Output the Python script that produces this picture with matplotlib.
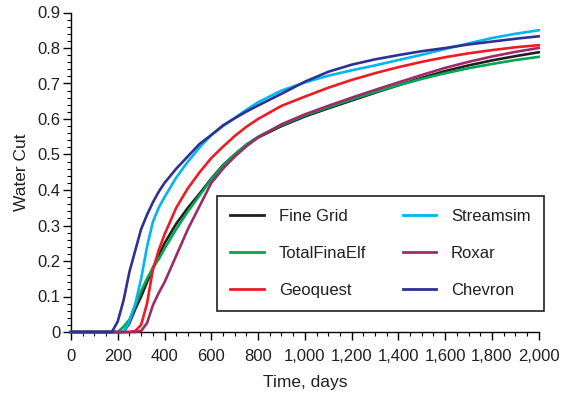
import matplotlib
matplotlib.use("Agg")
import matplotlib.pyplot as plt
from matplotlib.ticker import MultipleLocator, FuncFormatter

plt.rcParams['font.family'] = ['Liberation Sans', 'DejaVu Sans']
TXT = '#231f20'

# water cut vs time for each simulator
days = [0, 175, 200, 225, 250, 275, 300, 325, 350, 375, 400, 450, 500, 550, 600,
        650, 700, 750, 800, 900, 1000, 1100, 1200, 1300, 1400, 1500, 1600, 1700, 1800, 1900, 2000]

fine_grid = [0, 0, 0, 0, 0.025, 0.065, 0.10, 0.14, 0.18, 0.215, 0.25, 0.305, 0.35, 0.39, 0.432,
             0.47, 0.50, 0.527, 0.548, 0.58, 0.607, 0.63, 0.652, 0.674, 0.695, 0.716, 0.735, 0.751, 0.765, 0.777, 0.788]
totalfinaelf = [0, 0, 0, 0.015, 0.035, 0.075, 0.115, 0.15, 0.18, 0.205, 0.235, 0.29, 0.34, 0.385, 0.43,
                0.468, 0.50, 0.528, 0.55, 0.583, 0.61, 0.633, 0.655, 0.676, 0.695, 0.713, 0.729, 0.743, 0.755, 0.766, 0.775]
geoquest = [0, 0, 0, 0, 0, 0.003, 0.02, 0.08, 0.175, 0.23, 0.275, 0.35, 0.405, 0.45, 0.49,
            0.522, 0.552, 0.578, 0.60, 0.637, 0.663, 0.688, 0.71, 0.729, 0.746, 0.761, 0.774, 0.785, 0.794, 0.802, 0.808]
streamsim = [0, 0, 0, 0, 0.03, 0.08, 0.15, 0.24, 0.31, 0.35, 0.38, 0.435, 0.48, 0.52, 0.555,
             0.58, 0.603, 0.626, 0.647, 0.68, 0.703, 0.722, 0.737, 0.751, 0.766, 0.781, 0.797, 0.813, 0.828, 0.84, 0.85]
roxar = [0, 0, 0, 0, 0, 0, 0.003, 0.025, 0.075, 0.11, 0.14, 0.215, 0.29, 0.355, 0.42,
         0.46, 0.494, 0.523, 0.548, 0.585, 0.613, 0.637, 0.66, 0.682, 0.703, 0.724, 0.744, 0.761, 0.776, 0.789, 0.80]
chevron = [0, 0, 0.03, 0.09, 0.17, 0.23, 0.29, 0.33, 0.365, 0.395, 0.42, 0.46, 0.495, 0.53, 0.555,
           0.582, 0.602, 0.621, 0.638, 0.671, 0.705, 0.733, 0.753, 0.768, 0.78, 0.791, 0.80, 0.81, 0.818, 0.826, 0.833]

series = [
    ('Fine Grid', fine_grid, '#231f20'),
    ('TotalFinaElf', totalfinaelf, '#00a651'),
    ('Geoquest', geoquest, '#ed1c24'),
    ('Streamsim', streamsim, '#00b6f0'),
    ('Roxar', roxar, '#9e2a6a'),
    ('Chevron', chevron, '#2e3192'),
]

fig = plt.figure(figsize=(5.61, 3.95), dpi=100)
ax = fig.add_axes([71 / 561, 63 / 395, 467.7 / 561, 319.5 / 395])

for name, vals, col in series:
    ax.plot(days, vals, color=col, lw=1.9, label=name, clip_on=False, zorder=3)

ax.set_xlim(0, 2000)
ax.set_ylim(0, 0.9)
ax.spines['top'].set_visible(False)
ax.spines['right'].set_visible(False)
for s in ('left', 'bottom'):
    ax.spines[s].set_linewidth(1.0)

ax.xaxis.set_major_locator(MultipleLocator(200))
ax.xaxis.set_minor_locator(MultipleLocator(50))
ax.yaxis.set_major_locator(MultipleLocator(0.1))
ax.yaxis.set_minor_locator(MultipleLocator(0.02))
ax.xaxis.set_major_formatter(FuncFormatter(lambda v, p: f'{int(v):,}'))
ax.yaxis.set_major_formatter(FuncFormatter(lambda v, p: '0' if abs(v) < 1e-9 else f'{v:.1f}'))
ax.tick_params(which='major', direction='out', length=5.8, width=1.0,
               labelsize=12, labelcolor=TXT)
ax.tick_params(which='minor', direction='out', length=2.9, width=0.8)
ax.tick_params(axis='x', which='major', pad=6.5)
ax.tick_params(axis='y', which='major', pad=2)

ax.set_xlabel('Time, days', fontsize=12.5, color=TXT, labelpad=8)
ax.set_ylabel('Water Cut', fontsize=12.5, color=TXT, labelpad=6)

leg = ax.legend(ncol=2, loc='upper left', mode='expand',
                bbox_to_anchor=(217 / 561, 1 - 195.7 / 395, 327 / 561, 0),
                bbox_transform=fig.transFigure, fontsize=12, frameon=True,
                fancybox=False, framealpha=1, edgecolor='#231f20',
                handlelength=2.0, handletextpad=0.9, labelspacing=1.32,
                borderpad=0.8, columnspacing=1.5, borderaxespad=0)
leg.get_frame().set_linewidth(1.2)
for t in leg.get_texts():
    t.set_color(TXT)
for h in leg.get_lines():
    h.set_linewidth(2.0)

fig.savefig('out.png', dpi=100)
